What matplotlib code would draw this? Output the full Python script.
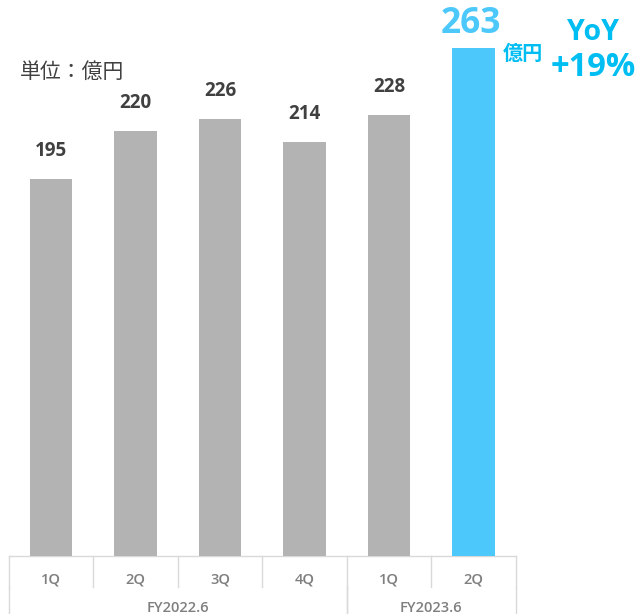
import matplotlib
matplotlib.use("Agg")
import matplotlib.pyplot as plt

plt.rcParams['font.family'] = ['Open Sans', 'Noto Sans CJK JP', 'DejaVu Sans']

# ── data ─────────────────────────────────────────────────────
quarters = ["1Q", "2Q", "3Q", "4Q", "1Q", "2Q"]
sales = [195, 220, 226, 214, 228, 263]
fiscal_years = ["FY2022.6", "FY2023.6"]
fy_spans = [(0, 3), (4, 5)]          # first / last quarter index per year
yoy_text = "+19%"

GREY = "#b3b3b3"
BLUE = "#4dc8fb"
BLUE_TXT = "#00bdf2"
LABEL = "#404040"
GRID = "#d9d9d9"
TICK = "#7f7f7f"

fig = plt.figure(figsize=(6.38, 6.14), dpi=100)
ax = fig.add_axes([0, 0, 1, 1])
ax.axis("off")
ax.set_xlim(-0.604, 6.947)
ax.set_ylim(-30.0, 287.6)

x = list(range(len(sales)))
colors = [GREY] * (len(sales) - 1) + [BLUE]
bars = ax.bar(x, sales, width=0.5, color=colors, zorder=2)

# value labels
for xi, v in zip(x[:-1], sales[:-1]):
    ax.annotate(f"{v}", (xi, v), xytext=(0, 28), textcoords="offset pixels",
                ha="center", va="center", fontsize=13.5, fontweight="bold",
                color=LABEL)
ax.annotate(f"{sales[-1]}", (x[-1], sales[-1]), xytext=(-3, 24),
            textcoords="offset pixels", ha="center", va="center",
            fontsize=25.5, fontweight="bold", color=BLUE)
ax.annotate("億円", (x[-1], sales[-1]), xytext=(49, -6),
            textcoords="offset pixels", ha="center", va="center",
            fontsize=14.5, fontweight="bold", color=BLUE_TXT,
            family=["Noto Sans CJK JP"])

# YoY callout
fig.text(593 / 638, 1 - 32 / 614, "YoY", ha="center", va="center",
         fontsize=20.5, fontweight="bold", color=BLUE_TXT)
fig.text(593 / 638, 1 - 68 / 614, yoy_text, ha="center", va="center",
         fontsize=23.5, fontweight="bold", color=BLUE_TXT)

# unit label
fig.text(20 / 638, 1 - 72 / 614, "単位：億円", ha="left", va="center",
         fontsize=15, color=LABEL, family=["Noto Sans CJK JP"])

# ── category table under the bars ────────────────────────────
row_split = -16.0
left, right = -0.5, len(sales) - 0.5
ax.plot([left, right], [0, 0], color=GRID, lw=1, zorder=1)
for b in [i - 0.5 for i in range(len(sales) + 1)]:
    ax.plot([b, b], [0, row_split], color=GRID, lw=1, zorder=1)
for first, last in fy_spans:
    for b in (first - 0.5, last + 0.5):
        ax.plot([b, b], [row_split, -30], color=GRID, lw=1, zorder=1)

for xi, q in zip(x, quarters):
    ax.text(xi, -11.9, q, ha="center", va="center", fontsize=10.5,
            fontweight="semibold", color=TICK)
for label, (first, last) in zip(fiscal_years, fy_spans):
    ax.text((first + last) / 2, -26.9, label, ha="center", va="center",
            fontsize=10.5, fontweight="semibold", color=TICK)

fig.savefig("out.png", dpi=100)
